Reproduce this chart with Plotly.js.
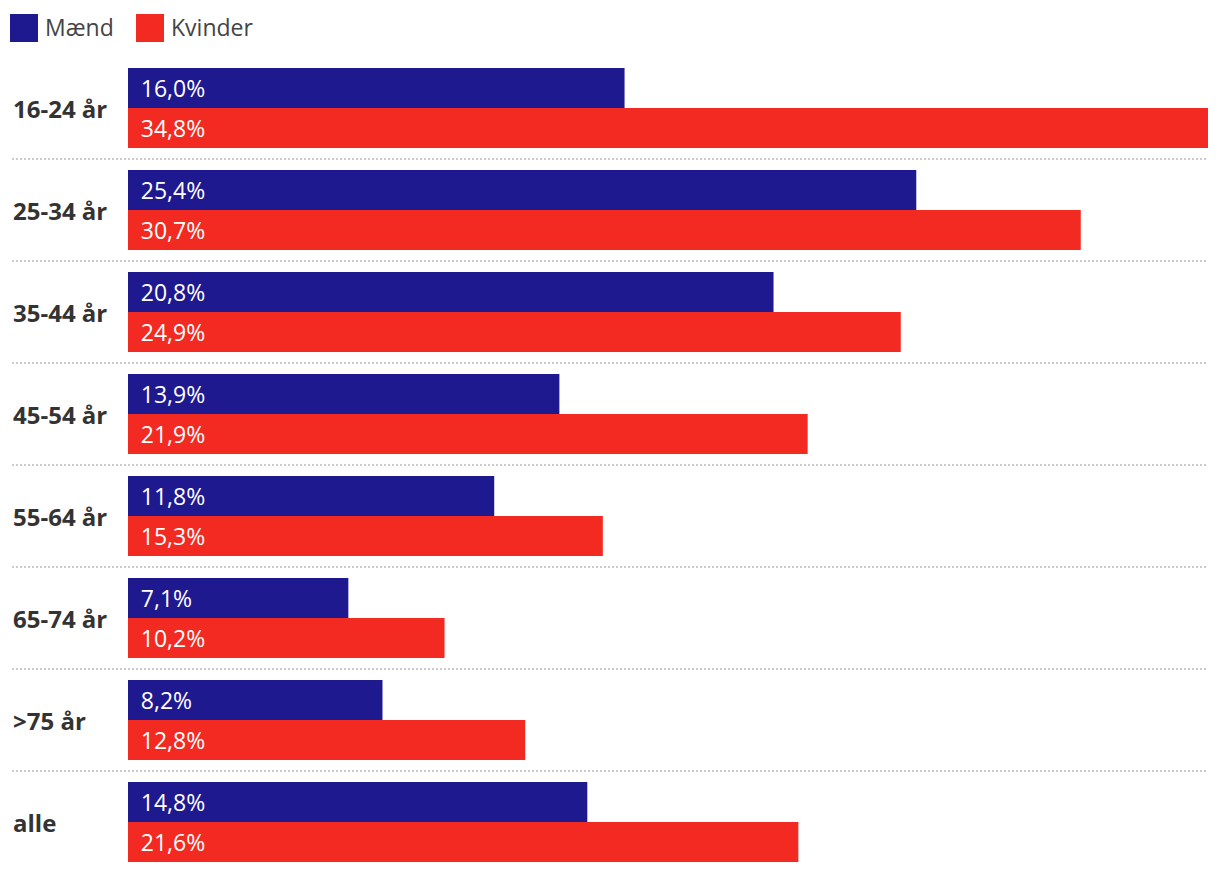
<!DOCTYPE html>
<html>
<head>
<meta charset="utf-8">
<script src="https://cdn.plot.ly/plotly-3.0.1.min.js"></script>
<style>html,body{margin:0;padding:0;background:#fff;}#chart{width:1220px;height:874px;}</style>
</head>
<body>
<div id="chart"></div>
<script>
const categories = ["16-24 år", "25-34 år", "35-44 år", "45-54 år", "55-64 år", "65-74 år", ">75 år", "alle"];
const maend = [16.0, 25.4, 20.8, 13.9, 11.8, 7.1, 8.2, 14.8];
const kvinder = [34.8, 30.7, 24.9, 21.9, 15.3, 10.2, 12.8, 21.6];
const seriesNames = ["Mænd", "Kvinder"];
const colors = ["#1f1990", "#f22a21"];

const W = 1220, H = 874, L = 128, R = 12, T = 57, B = 1;
const pw = W - L - R, ph = H - T - B;
const px2x = p => (p - L) / pw;
const py2y = p => (H - B - p) / ph;

const textFont = {family: "Open Sans, sans-serif", size: 23, color: "#ffffff"};

function barTrace(name, vals, color) {
  return {
    type: "bar", orientation: "h", name: name,
    y: categories, x: vals,
    marker: {color: color, line: {width: 0}},
    texttemplate: "\u00a0\u2009%{x:.1f}%",
    textposition: "inside", insidetextanchor: "start",
    insidetextfont: textFont, textfont: textFont,
    constraintext: "none",
    hoverinfo: "skip", cliponaxis: false
  };
}

const data = [barTrace(seriesNames[0], maend, colors[0]), barTrace(seriesNames[1], kvinder, colors[1])];

const shapes = [];
for (let i = 0; i < categories.length - 1; i++) {
  shapes.push({type: "line", xref: "paper", yref: "y", x0: px2x(12), x1: 1, y0: i + 0.5, y1: i + 0.5,
    line: {color: "#cccccc", width: 2, dash: "2px,2px"}});
}
// legend squares
const legX = [10, 136];
seriesNames.forEach((n, i) => {
  shapes.push({type: "rect", xref: "paper", yref: "paper", x0: px2x(legX[i]), x1: px2x(legX[i] + 28),
    y0: py2y(42), y1: py2y(14), fillcolor: colors[i], line: {width: 0}});
});

const annotations = [];
seriesNames.forEach((n, i) => {
  annotations.push({xref: "paper", yref: "paper", x: px2x(legX[i] + 33), y: py2y(27), xanchor: "left", yanchor: "middle",
    text: n, showarrow: false, font: {family: "Open Sans, sans-serif", size: 23, color: "#444444"}});
});
categories.forEach((c, i) => {
  annotations.push({xref: "paper", yref: "y", x: px2x(11), y: c, xanchor: "left", yanchor: "middle",
    text: "<b>" + c + "</b>", showarrow: false, font: {family: "Open Sans, sans-serif", size: 24, color: "#333333"}});
});

const layout = {
  width: W, height: H,
  margin: {l: L, r: R, t: T, b: B, pad: 0},
  paper_bgcolor: "#ffffff", plot_bgcolor: "#ffffff",
  barmode: "group", bargap: 22 / 102, bargroupgap: 0,
  separators: ",.",
  showlegend: false,
  xaxis: {range: [0, 34.8], visible: false, fixedrange: true},
  yaxis: {type: "category", range: [categories.length - 0.5, -0.5], showticklabels: false,
    showgrid: false, zeroline: false, showline: false, ticks: "", fixedrange: true},
  shapes: shapes, annotations: annotations,
  font: {family: "Open Sans, sans-serif"}
};

Plotly.newPlot("chart", data, layout, {displayModeBar: false, staticPlot: true});
</script>
</body>
</html>
